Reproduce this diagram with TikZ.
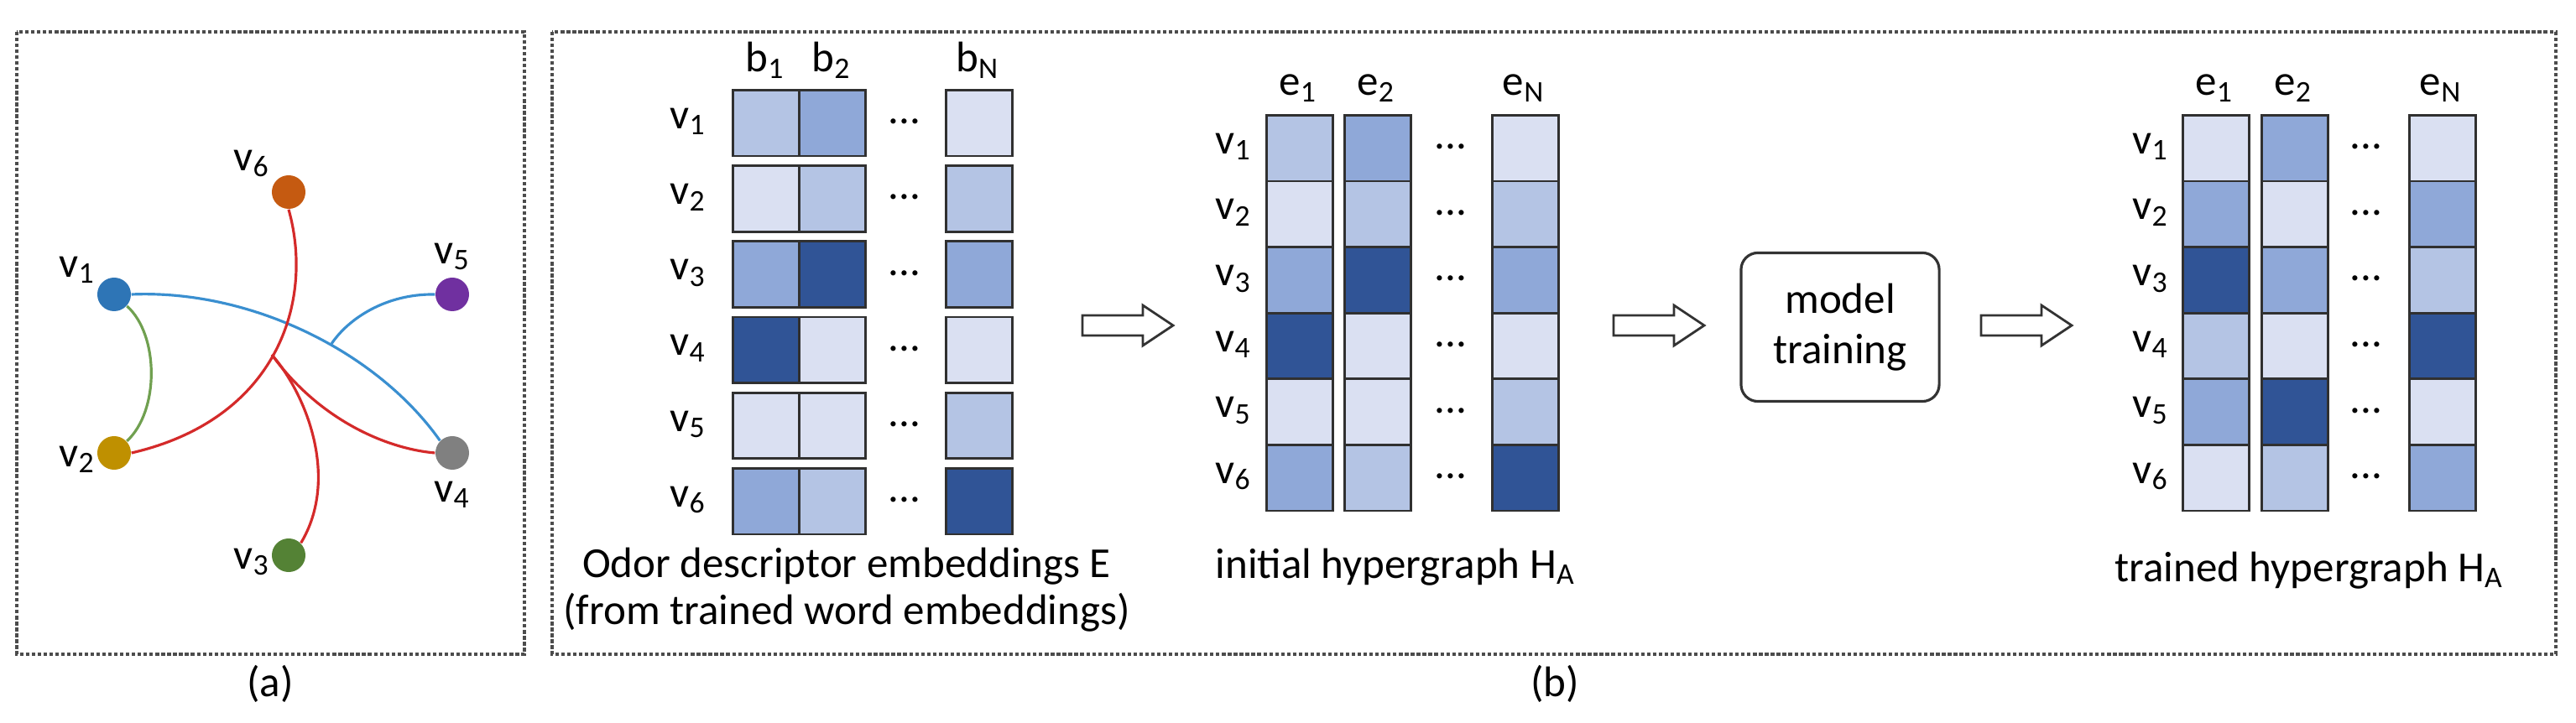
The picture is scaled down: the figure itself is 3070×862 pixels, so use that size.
\documentclass[tikz,border=0pt]{standalone}
\usepackage{fontspec}
\setmainfont{Carlito}
\usetikzlibrary{calc}
\definecolor{cL}{HTML}{DAE0F2}
\definecolor{cML}{HTML}{B4C4E4}
\definecolor{cM}{HTML}{8FA8D8}
\definecolor{cD}{HTML}{305496}
\definecolor{cbord}{HTML}{303030}
\definecolor{nv1}{HTML}{2E75B6}
\definecolor{nv2}{HTML}{BF9000}
\definecolor{nv3}{HTML}{548235}
\definecolor{nv4}{HTML}{808080}
\definecolor{nv5}{HTML}{7030A0}
\definecolor{nv6}{HTML}{C55A11}
\definecolor{eblue}{HTML}{3A8FD0}
\definecolor{ered}{HTML}{D42A2A}
\definecolor{egreen}{HTML}{70A050}
\begin{document}
\begin{tikzpicture}[x=0.01cm,y=-0.01cm,
  txt/.style={font=\fontsize{14.5}{17}\selectfont, inner sep=0pt},
  cell/.style={draw=cbord, line width=0.8pt, minimum width=0.79cm, minimum height=0.786cm, inner sep=0pt, anchor=north west},
  vert/.style={circle, minimum size=0.4cm, inner sep=0pt},
  frame/.style={draw=black!70, line width=1pt, dash pattern=on 1.2pt off 0.8pt},
  harrow/.style={draw=black!80, line width=0.8pt, fill=white},
  edge/.style={line width=0.9pt}]
\useasboundingbox (0,0) rectangle (3070,862);
% frames
\draw[frame] (20,38) rectangle (625,780);
\draw[frame] (658,38) rectangle (3046,780);
\node[txt] (la) at (322,815) {(a)};
\node[txt] (lb) at (1853,815) {(b)};
% panel a
\node[vert, fill=nv1] (v1) at (136,351) {};
\node[vert, fill=nv2] (v2) at (136,540) {};
\node[vert, fill=nv3] (v3) at (344,662) {};
\node[vert, fill=nv4] (v4) at (539,540) {};
\node[vert, fill=nv5] (v5) at (539,351) {};
\node[vert, fill=nv6] (v6) at (344,229) {};
\node[txt] (t1) at (92,322) {v\textsubscript{1}};
\node[txt] (t2) at (92,548) {v\textsubscript{2}};
\node[txt] (t3) at (300,670) {v\textsubscript{3}};
\node[txt] (t4) at (539,590) {v\textsubscript{4}};
\node[txt] (t5) at (539,306) {v\textsubscript{5}};
\node[txt] (t6) at (300,195) {v\textsubscript{6}};
\coordinate (jb) at (395,410);
\coordinate (jr) at (324,423);
\draw[edge, egreen] (v1) .. controls (190,400) and (190,490) .. (v2);
\draw[edge, eblue] (v1.east) .. controls (300,345) and (450,420) .. (v4.north west);
\draw[edge, eblue] (v5.west) .. controls (460,350) and (415,380) .. (jb);
\draw[edge, ered] (v6.south) .. controls (375,360) and (330,500) .. (v2.east);
\draw[edge, ered] (jr) .. controls (380,500) and (460,535) .. (v4.west);
\draw[edge, ered] (jr) .. controls (365,470) and (405,570) .. (v3.north east);
% matrix E
\foreach \cola/\colb/\colc [count=\i] in {cML/cM/cL, cL/cML/cML, cM/cD/cM, cD/cL/cL, cL/cL/cML, cM/cML/cD}{
  \pgfmathsetmacro\yy{106+(\i-1)*90.2}
  \node[cell, fill=\cola] (E\i a) at (872,\yy) {};
  \node[cell, fill=\colb] (E\i b) at (951,\yy) {};
  \node[cell, fill=\colc] (E\i c) at (1126,\yy) {};
  \node[txt] (Ev\i) at (820,\yy+39) {v\textsubscript{\i}};
  \node[txt] (Ed\i) at (1078,\yy+39) {...};
}
\node[txt] (Eb1) at (912,72) {b\textsubscript{1}};
\node[txt] (Eb2) at (991,72) {b\textsubscript{2}};
\node[txt] (EbN) at (1165,72) {b\textsubscript{N}};
\node[txt, align=center] (Ecap) at (1009,703) {Odor descriptor embeddings E\\[-1pt](from trained word embeddings)};
% initial H
\foreach \cola/\colb/\colc [count=\i] in {cML/cM/cL, cL/cML/cML, cM/cD/cM, cD/cL/cL, cL/cL/cML, cM/cML/cD}{
  \pgfmathsetmacro\yy{136+(\i-1)*78.6}
  \node[cell, fill=\cola] (H\i a) at (1508,\yy) {};
  \node[cell, fill=\colb] (H\i b) at (1601,\yy) {};
  \node[cell, fill=\colc] (H\i c) at (1777,\yy) {};
  \node[txt] (Hv\i) at (1470,\yy+39) {v\textsubscript{\i}};
  \node[txt] (Hd\i) at (1729,\yy+39) {...};
}
\node[txt] (He1) at (1547,105) {e\textsubscript{1}};
\node[txt] (He2) at (1640,105) {e\textsubscript{2}};
\node[txt] (HeN) at (1816,105) {e\textsubscript{N}};
\node[txt] (Hcap) at (1663,676) {initial hypergraph H\textsubscript{A}};
% trained H
\foreach \cola/\colb/\colc [count=\i] in {cL/cM/cL, cM/cL/cM, cD/cM/cML, cML/cL/cD, cM/cD/cL, cL/cML/cM}{
  \pgfmathsetmacro\yy{136+(\i-1)*78.6}
  \node[cell, fill=\cola] (T\i a) at (2600,\yy) {};
  \node[cell, fill=\colb] (T\i b) at (2694,\yy) {};
  \node[cell, fill=\colc] (T\i c) at (2870,\yy) {};
  \node[txt] (Tv\i) at (2563,\yy+39) {v\textsubscript{\i}};
  \node[txt] (Td\i) at (2820,\yy+39) {...};
}
\node[txt] (Te1) at (2639,105) {e\textsubscript{1}};
\node[txt] (Te2) at (2733,105) {e\textsubscript{2}};
\node[txt] (TeN) at (2909,105) {e\textsubscript{N}};
\node[txt] (Tcap) at (2752,680) {trained hypergraph H\textsubscript{A}};
% model training
\node[txt, draw=black!80, line width=0.9pt, rounded corners=0.2cm, minimum width=2.36cm, minimum height=1.77cm, align=center] (mt) at (2193,390) {model\\training};
% hollow arrows
\foreach \x [count=\k] in {1290,1923,2361}{
  \draw[harrow] (\x,376) -- (\x+72,376) -- (\x+72,364) -- (\x+108,388) -- (\x+72,412) -- (\x+72,400) -- (\x,400) -- cycle;
}
\end{tikzpicture}
\end{document}
